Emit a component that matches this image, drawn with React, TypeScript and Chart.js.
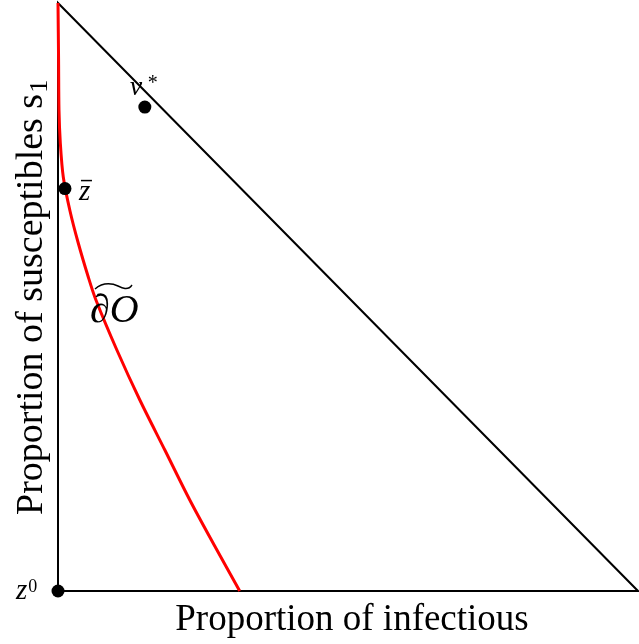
import React, { useEffect, useRef } from 'react';
import { Chart, registerables } from 'chart.js';

Chart.register(...registerables);

// Triangle (feasible region): infectious (x) vs susceptibles (y)
const triangleI = [0, 0, 1, 0];
const triangleS = [0, 1, 0, 0];

// Boundary curve ∂O (red)
const curveI = [0, 0.001, 0.0017, 0.004, 0.0091, 0.0207, 0.0349, 0.0522, 0.0654, 0.1015, 0.1411, 0.1842, 0.2272, 0.2702, 0.3133];
const curveS = [1, 0.9031, 0.818, 0.7619, 0.7041, 0.6463, 0.5918, 0.534, 0.4949, 0.4099, 0.3248, 0.2398, 0.1548, 0.0765, 0];

// Marked points
const pointNames = ['z0', 'zbar', 'vstar'];
const pointI = [0, 0.012, 0.1497];
const pointS = [0, 0.6844, 0.823];

const xTitle = 'Proportion of infectious';
const yTitle = 'Proportion of susceptibles s';
const yTitleSub = '1';

const labelPlugin = {
  id: 'labels',
  afterDatasetsDraw(chart: any) {
    const ctx = chart.ctx;
    const xs = chart.scales.x;
    const ys = chart.scales.y;
    const px = (i: number) => xs.getPixelForValue(pointI[i]);
    const py = (i: number) => ys.getPixelForValue(pointS[i]);
    ctx.save();
    ctx.fillStyle = '#000';
    ctx.strokeStyle = '#000';
    ctx.textAlign = 'left';
    ctx.textBaseline = 'alphabetic';

    // z^0
    const i0 = pointNames.indexOf('z0');
    ctx.font = 'italic 29px "Liberation Serif"';
    const z0x = px(i0) - 42;
    ctx.fillText('z', z0x, py(i0) + 8);
    const zw = ctx.measureText('z').width;
    ctx.font = '18px "Liberation Serif"';
    ctx.fillText('0', z0x + zw + 1, py(i0) + 1);

    // z bar
    const i1 = pointNames.indexOf('zbar');
    ctx.font = 'italic 29px "Liberation Serif"';
    const zx = px(i1) + 14;
    const zy = py(i1) + 11;
    ctx.fillText('z', zx, zy);
    ctx.lineWidth = 1.5;
    ctx.beginPath();
    ctx.moveTo(zx + 2, zy - 19);
    ctx.lineTo(zx + 13, zy - 19);
    ctx.stroke();

    // v*
    const i2 = pointNames.indexOf('vstar');
    ctx.font = 'italic 28px "Liberation Serif"';
    ctx.fillText('v', px(i2) - 15, py(i2) - 12);
    ctx.font = '20px "Liberation Serif"';
    ctx.fillText('*', px(i2) + 3, py(i2) - 18);

    // ∂O with wide tilde
    const lx = xs.left + 32;
    const ly = ys.bottom - 269;
    ctx.font = 'italic 40px "Liberation Serif"';
    ctx.fillText('∂O', lx, ly);
    ctx.lineWidth = 1.4;
    ctx.beginPath();
    ctx.moveTo(lx + 5, ly - 33);
    ctx.bezierCurveTo(lx + 14, ly - 41, lx + 24, ly - 38, lx + 28, ly - 36);
    ctx.bezierCurveTo(lx + 32, ly - 34, lx + 38, ly - 31, lx + 42, ly - 37);
    ctx.stroke();

    // x title
    ctx.font = '37px "Liberation Serif"';
    ctx.textAlign = 'center';
    ctx.fillText(xTitle, 352, 630);

    // y title (rotated)
    ctx.save();
    ctx.translate(42, 515);
    ctx.rotate(-Math.PI / 2);
    ctx.textAlign = 'left';
    ctx.font = '38px "Liberation Serif"';
    ctx.fillText(yTitle, 0, 0);
    const w = ctx.measureText(yTitle).width;
    ctx.font = '26px "Liberation Serif"';
    ctx.fillText(yTitleSub, w + 1, 5);
    ctx.restore();

    ctx.restore();
  },
};

export default function App() {
  const ref = useRef<HTMLCanvasElement | null>(null);

  useEffect(() => {
    document.body.style.margin = '0';
    const canvas = ref.current;
    if (!canvas) return;
    const chart = new Chart(canvas, {
      type: 'scatter',
      data: {
        datasets: [
          {
            label: 'points',
            data: pointI.map((x, i) => ({ x, y: pointS[i] })),
            showLine: false,
            pointRadius: 6.5,
            pointBackgroundColor: '#000',
            pointBorderWidth: 0,
            clip: false as any,
          },
          {
            label: 'curve',
            data: curveI.map((x, i) => ({ x, y: curveS[i] })),
            showLine: true,
            borderColor: '#ff0000',
            borderWidth: 3,
            pointRadius: 0,
            tension: 0.3,
            clip: false as any,
          },
          {
            label: 'triangle',
            data: triangleI.map((x, i) => ({ x, y: triangleS[i] })),
            showLine: true,
            borderColor: '#000',
            borderWidth: 2,
            pointRadius: 0,
            tension: 0,
            clip: false as any,
          },
        ],
      },
      options: {
        responsive: false,
        animation: false,
        layout: { autoPadding: false, padding: { left: 58, right: 1, top: 3, bottom: 53 } },
        scales: {
          x: { type: 'linear', min: 0, max: 1, display: false },
          y: { type: 'linear', min: 0, max: 1, display: false },
        },
        plugins: {
          legend: { display: false },
          tooltip: { enabled: false },
        },
      },
      plugins: [labelPlugin],
    });
    return () => chart.destroy();
  }, []);

  return (
    <div style={{ width: 639, height: 644, background: '#fff' }}>
      <canvas ref={ref} width={639} height={644} />
    </div>
  );
}
